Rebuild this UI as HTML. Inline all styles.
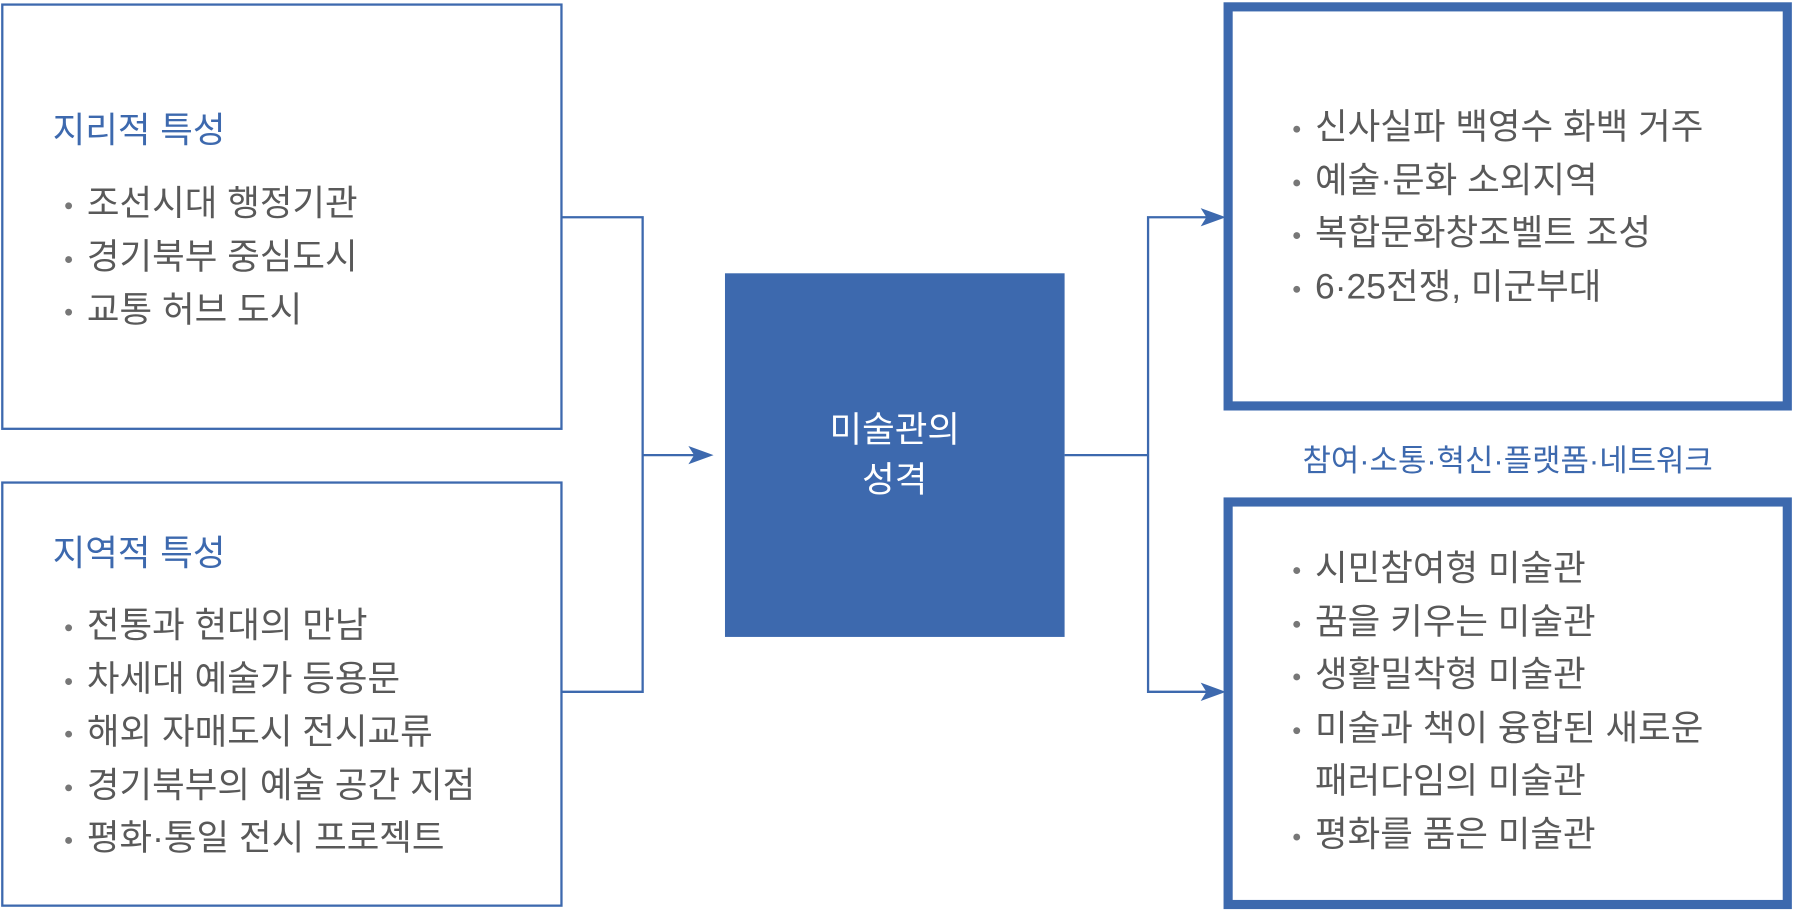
<!DOCTYPE html>
<html><head><meta charset="utf-8"><style>
body{margin:0;width:1793px;height:912px;background:#fff;position:relative;overflow:hidden;font-family:"Liberation Sans","Noto Sans CJK KR",sans-serif;}
#w{position:absolute;left:0;top:0;width:1568px;height:798px;transform:scale(1.1435);transform-origin:0 0;}
.b{position:absolute;box-sizing:border-box;border:2px solid #3d69ae;}
.t{position:absolute;color:#3d69ae;font-size:31px;white-space:nowrap;}
.l{position:absolute;color:#595959;font-size:31px;white-space:nowrap;line-height:46.5px;}
.l div{position:relative;padding-left:22px;}
.l div.d:before{content:"";position:absolute;left:3px;top:22px;width:6px;height:6px;border-radius:50%;background:#777;}
</style></head><body><div id="w">
<div class="b" style="left:1px;top:3px;width:491px;height:373px"></div>
<div class="b" style="left:1px;top:421px;width:491px;height:372px"></div>
<div style="position:absolute;left:634px;top:239px;width:297px;height:318px;background:#3d69ae;color:#fff;font-size:31px;text-align:center;line-height:44px;display:flex;align-items:center;justify-content:center"><div>미술관의<br>성격</div></div>
<div class="b" style="left:1070px;top:2px;width:497px;height:357px;border-width:8px"></div>
<div class="b" style="left:1070px;top:435px;width:497px;height:360px;border-width:8px"></div>
<svg style="position:absolute;left:0;top:0" width="1568" height="798">
<g stroke="#3d69ae" stroke-width="2" fill="none">
<polyline points="491,190 562,190 562,605 491,605"/>
<line x1="562" y1="398" x2="610" y2="398"/>
<line x1="931" y1="398" x2="1004" y2="398"/>
<polyline points="1060,190 1004,190 1004,605 1060,605"/>
</g>
<g fill="#3d69ae">
<polygon points="624,398 602,390 607,398 602,406"/>
<polygon points="1072,190 1050,182 1055,190 1050,198"/>
<polygon points="1072,605 1050,597 1055,605 1050,613"/>
</g>
</svg>
<div class="t" style="left:46px;top:88px">지리적 특성</div>
<div class="l" style="left:54px;top:155px"><div class="d">조선시대 행정기관</div><div class="d">경기북부 중심도시</div><div class="d">교통 허브 도시</div></div>
<div class="t" style="left:46px;top:458px">지역적 특성</div>
<div class="l" style="left:54px;top:524px"><div class="d">전통과 현대의 만남</div><div class="d">차세대 예술가 등용문</div><div class="d">해외 자매도시 전시교류</div><div class="d">경기북부의 예술 공간 지점</div><div class="d">평화·통일 전시 프로젝트</div></div>
<div class="l" style="left:1128px;top:88px"><div class="d">신사실파 백영수 화백 거주</div><div class="d">예술·문화 소외지역</div><div class="d">복합문화창조벨트 조성</div><div class="d">6·25전쟁, 미군부대</div></div>
<div class="t" style="left:1139px;top:381px;font-size:27px">참여·소통·혁신·플랫폼·네트워크</div>
<div class="l" style="left:1128px;top:474px"><div class="d">시민참여형 미술관</div><div class="d">꿈을 키우는 미술관</div><div class="d">생활밀착형 미술관</div><div class="d">미술과 책이 융합된 새로운</div><div>패러다임의 미술관</div><div class="d">평화를 품은 미술관</div></div>
</div></body></html>
